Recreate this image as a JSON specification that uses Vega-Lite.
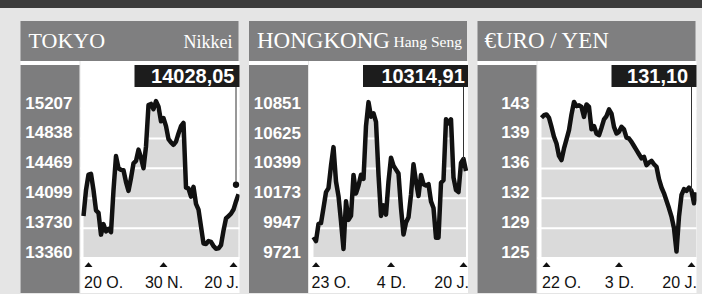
{
 "$schema": "https://vega.github.io/schema/vega-lite/v6.json",
 "background": "#e5e5e5",
 "padding": {"left": 0, "top": 0, "right": 0, "bottom": 1},
 "spacing": 13,
 "config": {"view": {"stroke": null}},
 "datasets": {
  "tokyo": [{"d":0,"v":13880},{"d":1,"v":14200},{"d":2,"v":14390},{"d":3,"v":14400},{"d":4,"v":14200},{"d":5,"v":13950},{"d":6,"v":13920},{"d":7,"v":13650},{"d":8,"v":13780},{"d":9,"v":13690},{"d":10,"v":13720},{"d":11,"v":13680},{"d":12,"v":14200},{"d":13,"v":14620},{"d":14,"v":14470},{"d":15,"v":14450},{"d":16,"v":14445},{"d":17,"v":14300},{"d":18,"v":14190},{"d":19,"v":14350},{"d":20,"v":14530},{"d":21,"v":14560},{"d":22,"v":14700},{"d":23,"v":14600},{"d":24,"v":14470},{"d":25,"v":14740},{"d":26,"v":15250},{"d":27,"v":15265},{"d":28,"v":15200},{"d":29,"v":15300},{"d":30,"v":15230},{"d":31,"v":15050},{"d":32,"v":15090},{"d":33,"v":14990},{"d":34,"v":14830},{"d":35,"v":14790},{"d":36,"v":14760},{"d":37,"v":14800},{"d":38,"v":14900},{"d":39,"v":14990},{"d":40,"v":15030},{"d":41,"v":14230},{"d":42,"v":14220},{"d":43,"v":14120},{"d":44,"v":14240},{"d":45,"v":14030},{"d":46,"v":13960},{"d":47,"v":13750},{"d":48,"v":13540},{"d":49,"v":13535},{"d":50,"v":13570},{"d":51,"v":13560},{"d":52,"v":13510},{"d":53,"v":13475},{"d":54,"v":13480},{"d":55,"v":13520},{"d":56,"v":13700},{"d":57,"v":13850},{"d":58,"v":13880},{"d":59,"v":13910},{"d":60,"v":13960},{"d":61,"v":14060},{"d":62,"v":14150}],
  "tokyoTicks": [{"v":13360},{"v":13730},{"v":14099},{"v":14469},{"v":14838},{"v":15207}],
  "tokyoX": [{"d":2},{"d":32},{"d":60}],
  "tokyoLast": [{"d":61,"v":14266,"label":"14028,05"}],
  "hk": [{"d":0,"v":9880},{"d":1,"v":9850},{"d":2,"v":9980},{"d":3,"v":9985},{"d":4,"v":10100},{"d":5,"v":10220},{"d":6,"v":10250},{"d":7,"v":10420},{"d":8,"v":10560},{"d":9,"v":10300},{"d":10,"v":10190},{"d":11,"v":10000},{"d":12,"v":9790},{"d":13,"v":10150},{"d":14,"v":10010},{"d":15,"v":10040},{"d":16,"v":10350},{"d":17,"v":10210},{"d":18,"v":10270},{"d":19,"v":10350},{"d":20,"v":10320},{"d":21,"v":10720},{"d":22,"v":10900},{"d":23,"v":10790},{"d":24,"v":10815},{"d":25,"v":10750},{"d":26,"v":10350},{"d":27,"v":10040},{"d":28,"v":10120},{"d":29,"v":10050},{"d":30,"v":10300},{"d":31,"v":10480},{"d":32,"v":10420},{"d":33,"v":10390},{"d":34,"v":10360},{"d":35,"v":10100},{"d":36,"v":9900},{"d":37,"v":9990},{"d":38,"v":10030},{"d":39,"v":10200},{"d":40,"v":10430},{"d":41,"v":10300},{"d":42,"v":10190},{"d":43,"v":10350},{"d":44,"v":10280},{"d":45,"v":10270},{"d":46,"v":10280},{"d":47,"v":10150},{"d":48,"v":10100},{"d":49,"v":9875},{"d":50,"v":9875},{"d":51,"v":10290},{"d":52,"v":10310},{"d":53,"v":10770},{"d":54,"v":10740},{"d":55,"v":10770},{"d":56,"v":10330},{"d":57,"v":10235},{"d":58,"v":10220},{"d":59,"v":10440},{"d":60,"v":10470},{"d":61,"v":10380}],
  "hkTicks": [{"v":9721},{"v":9947},{"v":10173},{"v":10399},{"v":10625},{"v":10851}],
  "hkX": [{"d":1},{"d":31},{"d":60}],
  "hkLast": [{"d":60,"v":10470,"label":"10314,91"}],
  "euro": [{"d":0,"v":141.9},{"d":1,"v":142.2},{"d":2,"v":142.3},{"d":3,"v":141.9},{"d":4,"v":140.8},{"d":5,"v":139.6},{"d":6,"v":138.8},{"d":7,"v":137.3},{"d":8,"v":136.8},{"d":9,"v":138.2},{"d":10,"v":139.3},{"d":11,"v":140.4},{"d":12,"v":142.3},{"d":13,"v":143.8},{"d":14,"v":143.3},{"d":15,"v":143.4},{"d":16,"v":143.2},{"d":17,"v":142.0},{"d":18,"v":143.5},{"d":19,"v":143.2},{"d":20,"v":140.5},{"d":21,"v":140.9},{"d":22,"v":140.0},{"d":23,"v":139.8},{"d":24,"v":140.7},{"d":25,"v":141.7},{"d":26,"v":142.1},{"d":27,"v":142.9},{"d":28,"v":142.4},{"d":29,"v":140.8},{"d":30,"v":140.0},{"d":31,"v":140.2},{"d":32,"v":140.8},{"d":33,"v":140.5},{"d":34,"v":139.5},{"d":35,"v":139.4},{"d":36,"v":139.0},{"d":37,"v":138.5},{"d":38,"v":138.0},{"d":39,"v":137.5},{"d":40,"v":137.0},{"d":41,"v":137.2},{"d":42,"v":136.2},{"d":43,"v":136.5},{"d":44,"v":136.7},{"d":45,"v":136.3},{"d":46,"v":136.0},{"d":47,"v":134.5},{"d":48,"v":133.5},{"d":49,"v":132.8},{"d":50,"v":131.9},{"d":51,"v":131.0},{"d":52,"v":130.0},{"d":53,"v":128.6},{"d":54,"v":125.8},{"d":55,"v":130.0},{"d":56,"v":132.6},{"d":57,"v":133.3},{"d":58,"v":133.1},{"d":59,"v":133.5},{"d":60,"v":133.1},{"d":61,"v":131.6},{"d":62,"v":132.9}],
  "euroTicks": [{"v":125},{"v":128.6},{"v":132.2},{"v":135.8},{"v":139.4},{"v":143}],
  "euroX": [{"d":2},{"d":31},{"d":60}],
  "euroLast": [{"d":60,"v":133.1,"label":"131,10"}]
 },
 "vconcat": [
  {"width": 702, "height": 8, "view": {"fill": "#3b3b3b"}, "data": {"values": []}, "mark": "rect"},
  {"spacing": 8.5, "hconcat": [
   {"width": 11.5, "height": 10, "view": {"fill": "#e5e5e5"}, "data": {"values": []}, "mark": "rect"},
   {"spacing": 0, "vconcat": [
    {"width": 218, "height": 40, "view": {"fill": "#7f7f80"},
     "data": {"values": [{"role": "left", "label": "TOKYO"}, {"role": "right", "label": "Nikkei"}]},
     "encoding": {"x": {"field": "role", "type": "nominal", "scale": {"type": "point", "domain": ["left", "right"], "padding": 0}, "axis": null}, "text": {"field": "label", "type": "nominal"}},
     "layer": [
      {"transform": [{"filter": "datum.role == 'left'"}], "mark": {"type": "text", "align": "left", "baseline": "alphabetic", "dx": 8, "dy": 7, "font": "Liberation Serif", "fontSize": 22, "fill": "#ffffff"}},
      {"transform": [{"filter": "datum.role == 'right'"}], "mark": {"type": "text", "align": "right", "baseline": "alphabetic", "dx": -6, "dy": 7, "font": "Liberation Serif", "fontSize": 18, "fill": "#ffffff"}}
     ]},
    {"spacing": 0, "hconcat": [
     {"width": 59, "height": 232, "view": {"fill": "#ffffff"},
      "layer": [
       {"data": {"values": [{}]}, "mark": {"type": "rect", "fill": "#7d7d7e"},
        "encoding": {"y": {"datum": 15745.6, "type": "quantitative", "scale": {"domain": [12928.9, 15795.1], "nice": false, "zero": false}, "axis": null}, "y2": {"datum": 12928.9}}},
       {"data": {"name": "tokyoTicks"}, "mark": {"type": "text", "align": "right", "baseline": "alphabetic", "dx": -7, "font": "Liberation Sans", "fontWeight": "bold", "fontSize": 17, "fill": "#ffffff"},
        "encoding": {"x": {"value": "width"}, "y": {"field": "v", "type": "quantitative", "axis": null}, "text": {"field": "v", "type": "quantitative", "format": ".0f"}}}
      ]},
     {"width": 159, "height": 232, "view": {"fill": "#ffffff"},
      "layer": [
       {"data": {"name": "tokyo"}, "mark": {"type": "area", "fill": "#dadada", "clip": true},
        "encoding": {
         "x": {"field": "d", "type": "quantitative", "scale": {"domain": [-1.2, 62.4], "nice": false, "zero": false},
          "axis": {"values": [2, 32, 60], "labelExpr": "datum.value == 2 ? '20 O.' : datum.value == 32 ? '30 N.' : '20 J.'", "orient": "bottom", "offset": -6, "zindex": 1, "domain": false, "ticks": false, "tickSize": 0, "grid": false, "labelPadding": 0, "labelBaseline": "alphabetic", "labelFlush": 12, "labelFlushOffset": 5, "labelFont": "Liberation Sans", "labelFontSize": 16, "labelColor": "#111111", "title": null}},
         "y": {"field": "v", "type": "quantitative", "scale": {"domain": [12928.9, 15795.1], "nice": false, "zero": false}, "axis": null},
         "y2": {"datum": 13360}}},
       {"data": {"name": "tokyoTicks"}, "mark": {"type": "rule", "stroke": "#ffffff", "strokeWidth": 2},
        "encoding": {"y": {"field": "v", "type": "quantitative", "axis": null}}},
       {"data": {"name": "tokyo"}, "mark": {"type": "line", "stroke": "#111111", "strokeWidth": 4.5, "strokeJoin": "round", "clip": true},
        "encoding": {"x": {"field": "d", "type": "quantitative"}, "y": {"field": "v", "type": "quantitative", "axis": null}}},
       {"data": {"name": "tokyoX"}, "mark": {"type": "point", "shape": "M-1,0.6L1,0.6L0,-0.6Z", "size": 64, "filled": true, "fill": "#111111", "opacity": 1, "yOffset": 6.5},
        "encoding": {"x": {"field": "d", "type": "quantitative"}, "y": {"datum": 13360, "type": "quantitative", "axis": null}}},
       {"data": {"name": "tokyoLast"}, "mark": {"type": "rule", "stroke": "#333333", "strokeWidth": 1},
        "encoding": {"x": {"field": "d", "type": "quantitative"}, "y": {"field": "v", "type": "quantitative", "axis": null}, "y2": {"datum": 15473.7}}},
       {"data": {"name": "tokyoLast"}, "mark": {"type": "rect", "fill": "#1c1c1c", "xOffset": -101.5, "x2Offset": 3.5},
        "encoding": {"x": {"field": "d", "type": "quantitative"}, "x2": {"field": "d"}, "y": {"datum": 15745.6, "type": "quantitative", "axis": null}, "y2": {"datum": 15473.7}}},
       {"data": {"name": "tokyoLast"}, "mark": {"type": "text", "align": "right", "baseline": "alphabetic", "dx": -1.5, "dy": -4, "font": "Liberation Sans", "fontWeight": "bold", "fontSize": 20, "fill": "#ffffff"},
        "encoding": {"x": {"field": "d", "type": "quantitative"}, "y": {"datum": 15473.7, "type": "quantitative", "axis": null}, "text": {"field": "label", "type": "nominal"}}},
       {"data": {"name": "tokyoLast"}, "mark": {"type": "point", "shape": "circle", "size": 40, "filled": true, "fill": "#111111", "opacity": 1},
        "encoding": {"x": {"field": "d", "type": "quantitative"}, "y": {"field": "v", "type": "quantitative", "axis": null}}}
      ]}
    ]}
   ]},
   {"spacing": 0, "vconcat": [
    {"width": 218, "height": 40, "view": {"fill": "#7f7f80"},
     "data": {"values": [{"role": "left", "label": "HONGKONG"}, {"role": "right", "label": "Hang Seng"}]},
     "encoding": {"x": {"field": "role", "type": "nominal", "scale": {"type": "point", "domain": ["left", "right"], "padding": 0}, "axis": null}, "text": {"field": "label", "type": "nominal"}},
     "layer": [
      {"transform": [{"filter": "datum.role == 'left'"}], "mark": {"type": "text", "align": "left", "baseline": "alphabetic", "dx": 8, "dy": 7, "font": "Liberation Serif", "fontSize": 23, "fill": "#ffffff"}},
      {"transform": [{"filter": "datum.role == 'right'"}], "mark": {"type": "text", "align": "right", "baseline": "alphabetic", "dx": -5, "dy": 6, "font": "Liberation Serif", "fontSize": 15.5, "fill": "#ffffff"}}
     ]},
    {"spacing": 0, "hconcat": [
     {"width": 59, "height": 232, "view": {"fill": "#ffffff"},
      "layer": [
       {"data": {"values": [{}]}, "mark": {"type": "rect", "fill": "#7d7d7e"},
        "encoding": {"y": {"datum": 11180.5, "type": "quantitative", "scale": {"domain": [9457.3, 11210.8], "nice": false, "zero": false}, "axis": null}, "y2": {"datum": 9457.3}}},
       {"data": {"name": "hkTicks"}, "mark": {"type": "text", "align": "right", "baseline": "alphabetic", "dx": -7, "font": "Liberation Sans", "fontWeight": "bold", "fontSize": 17, "fill": "#ffffff"},
        "encoding": {"x": {"value": "width"}, "y": {"field": "v", "type": "quantitative", "axis": null}, "text": {"field": "v", "type": "quantitative", "format": ".0f"}}}
      ]},
     {"width": 159, "height": 232, "view": {"fill": "#ffffff"},
      "layer": [
       {"data": {"name": "hk"}, "mark": {"type": "area", "fill": "#dadada", "clip": true},
        "encoding": {
         "x": {"field": "d", "type": "quantitative", "scale": {"domain": [-1.8, 61.8], "nice": false, "zero": false},
          "axis": {"values": [1, 31, 60], "labelExpr": "datum.value == 1 ? '23 O.' : datum.value == 31 ? '4 D.' : '20 J.'", "orient": "bottom", "offset": -6, "zindex": 1, "domain": false, "ticks": false, "tickSize": 0, "grid": false, "labelPadding": 0, "labelBaseline": "alphabetic", "labelFlush": 12, "labelFlushOffset": 5, "labelFont": "Liberation Sans", "labelFontSize": 16, "labelColor": "#111111", "title": null}},
         "y": {"field": "v", "type": "quantitative", "scale": {"domain": [9457.3, 11210.8], "nice": false, "zero": false}, "axis": null},
         "y2": {"datum": 9721}}},
       {"data": {"name": "hkTicks"}, "mark": {"type": "rule", "stroke": "#ffffff", "strokeWidth": 2},
        "encoding": {"y": {"field": "v", "type": "quantitative", "axis": null}}},
       {"data": {"name": "hk"}, "mark": {"type": "line", "stroke": "#111111", "strokeWidth": 4.5, "strokeJoin": "round", "clip": true},
        "encoding": {"x": {"field": "d", "type": "quantitative"}, "y": {"field": "v", "type": "quantitative", "axis": null}}},
       {"data": {"name": "hkX"}, "mark": {"type": "point", "shape": "M-1,0.6L1,0.6L0,-0.6Z", "size": 64, "filled": true, "fill": "#111111", "opacity": 1, "yOffset": 6.5},
        "encoding": {"x": {"field": "d", "type": "quantitative"}, "y": {"datum": 9721, "type": "quantitative", "axis": null}}},
       {"data": {"name": "hkLast"}, "mark": {"type": "rule", "stroke": "#333333", "strokeWidth": 1},
        "encoding": {"x": {"field": "d", "type": "quantitative"}, "y": {"field": "v", "type": "quantitative", "axis": null}, "y2": {"datum": 11014.2}}},
       {"data": {"name": "hkLast"}, "mark": {"type": "rect", "fill": "#1c1c1c", "xOffset": -100.5, "x2Offset": 4.5},
        "encoding": {"x": {"field": "d", "type": "quantitative"}, "x2": {"field": "d"}, "y": {"datum": 11180.5, "type": "quantitative", "axis": null}, "y2": {"datum": 11014.2}}},
       {"data": {"name": "hkLast"}, "mark": {"type": "text", "align": "right", "baseline": "alphabetic", "dx": 1.3, "dy": -4, "font": "Liberation Sans", "fontWeight": "bold", "fontSize": 20, "fill": "#ffffff"},
        "encoding": {"x": {"field": "d", "type": "quantitative"}, "y": {"datum": 11014.2, "type": "quantitative", "axis": null}, "text": {"field": "label", "type": "nominal"}}}
      ]}
    ]}
   ]},
   {"spacing": 0, "vconcat": [
    {"width": 218, "height": 40, "view": {"fill": "#7f7f80"},
     "data": {"values": [{"role": "left", "label": "€URO / YEN"}]},
     "encoding": {"x": {"field": "role", "type": "nominal", "scale": {"type": "point", "domain": ["left", "right"], "padding": 0}, "axis": null}, "text": {"field": "label", "type": "nominal"}},
     "layer": [
      {"mark": {"type": "text", "align": "left", "baseline": "alphabetic", "dx": 7, "dy": 7, "font": "Liberation Serif", "fontSize": 23, "fill": "#ffffff"}}
     ]},
    {"spacing": 0, "hconcat": [
     {"width": 59, "height": 232, "view": {"fill": "#ffffff"},
      "layer": [
       {"data": {"values": [{}]}, "mark": {"type": "rect", "fill": "#7d7d7e"},
        "encoding": {"y": {"datum": 148.25, "type": "quantitative", "scale": {"domain": [120.8, 148.73], "nice": false, "zero": false}, "axis": null}, "y2": {"datum": 120.8}}},
       {"data": {"name": "euroTicks"}, "mark": {"type": "text", "align": "right", "baseline": "alphabetic", "dx": -7, "font": "Liberation Sans", "fontWeight": "bold", "fontSize": 17, "fill": "#ffffff"},
        "encoding": {"x": {"value": "width"}, "y": {"field": "v", "type": "quantitative", "axis": null}, "text": {"field": "v", "type": "quantitative", "format": ".0f"}}}
      ]},
     {"width": 159, "height": 232, "view": {"fill": "#ffffff"},
      "layer": [
       {"data": {"name": "euro"}, "mark": {"type": "area", "fill": "#dadada", "clip": true},
        "encoding": {
         "x": {"field": "d", "type": "quantitative", "scale": {"domain": [-1.6, 62.0], "nice": false, "zero": false},
          "axis": {"values": [2, 31, 60], "labelExpr": "datum.value == 2 ? '22 O.' : datum.value == 31 ? '3 D.' : '20 J.'", "orient": "bottom", "offset": -6, "zindex": 1, "domain": false, "ticks": false, "tickSize": 0, "grid": false, "labelPadding": 0, "labelBaseline": "alphabetic", "labelFlush": 12, "labelFlushOffset": 5, "labelFont": "Liberation Sans", "labelFontSize": 16, "labelColor": "#111111", "title": null}},
         "y": {"field": "v", "type": "quantitative", "scale": {"domain": [120.8, 148.73], "nice": false, "zero": false}, "axis": null},
         "y2": {"datum": 125}}},
       {"data": {"name": "euroTicks"}, "mark": {"type": "rule", "stroke": "#ffffff", "strokeWidth": 2},
        "encoding": {"y": {"field": "v", "type": "quantitative", "axis": null}}},
       {"data": {"name": "euro"}, "mark": {"type": "line", "stroke": "#111111", "strokeWidth": 4.5, "strokeJoin": "round", "clip": true},
        "encoding": {"x": {"field": "d", "type": "quantitative"}, "y": {"field": "v", "type": "quantitative", "axis": null}}},
       {"data": {"name": "euroX"}, "mark": {"type": "point", "shape": "M-1,0.6L1,0.6L0,-0.6Z", "size": 64, "filled": true, "fill": "#111111", "opacity": 1, "yOffset": 6.5},
        "encoding": {"x": {"field": "d", "type": "quantitative"}, "y": {"datum": 125, "type": "quantitative", "axis": null}}},
       {"data": {"name": "euroLast"}, "mark": {"type": "rule", "stroke": "#333333", "strokeWidth": 1},
        "encoding": {"x": {"field": "d", "type": "quantitative"}, "y": {"field": "v", "type": "quantitative", "axis": null}, "y2": {"datum": 145.6}}},
       {"data": {"name": "euroLast"}, "mark": {"type": "rect", "fill": "#1c1c1c", "xOffset": -80, "x2Offset": 5},
        "encoding": {"x": {"field": "d", "type": "quantitative"}, "x2": {"field": "d"}, "y": {"datum": 148.25, "type": "quantitative", "axis": null}, "y2": {"datum": 145.6}}},
       {"data": {"name": "euroLast"}, "mark": {"type": "text", "align": "right", "baseline": "alphabetic", "dx": -3.3, "dy": -4, "font": "Liberation Sans", "fontWeight": "bold", "fontSize": 20, "fill": "#ffffff"},
        "encoding": {"x": {"field": "d", "type": "quantitative"}, "y": {"datum": 145.6, "type": "quantitative", "axis": null}, "text": {"field": "label", "type": "nominal"}}}
      ]}
    ]}
   ]}
  ]}
 ]
}
